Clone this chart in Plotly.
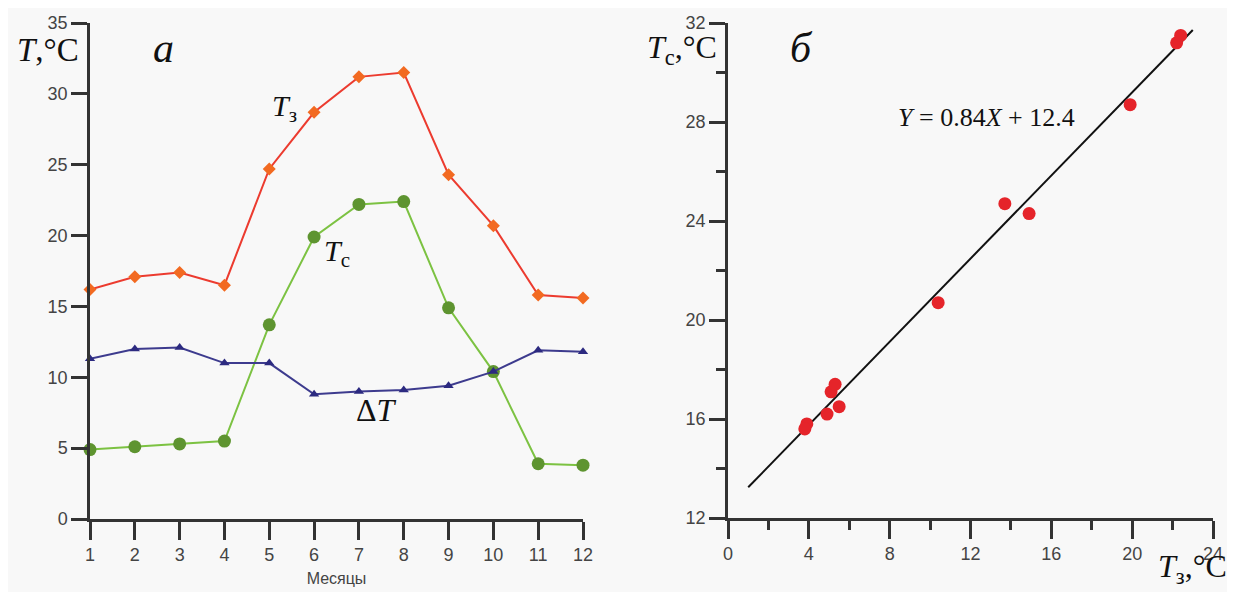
import plotly.graph_objects as go

months = [1, 2, 3, 4, 5, 6, 7, 8, 9, 10, 11, 12]
t_z = [16.2, 17.1, 17.4, 16.5, 24.7, 28.7, 31.2, 31.5, 24.3, 20.7, 15.8, 15.6]
t_c = [4.9, 5.1, 5.3, 5.5, 13.7, 19.9, 22.2, 22.4, 14.9, 10.4, 3.9, 3.8]
d_t = [11.3, 12.0, 12.1, 11.0, 11.0, 8.8, 9.0, 9.1, 9.4, 10.4, 11.9, 11.8]

fit_slope = 0.84
fit_intercept = 12.4
fit_x = [1.0, 23.0]
fit_y = [fit_slope * x + fit_intercept for x in fit_x]

OX, OY = 8, 8  # page body offset
W, H = 1235 - OX, 592 - OY

def px(x):
    return (x - OX) / W

def py(y):
    return 1 - (y - OY) / H

fig = go.Figure()

# left panel
fig.add_trace(go.Scatter(x=months, y=t_z, mode="lines+markers", xaxis="x", yaxis="y",
                         line=dict(color="#ec3b2f", width=2),
                         marker=dict(symbol="diamond", size=10, color="#f26a21"),
                         cliponaxis=False, showlegend=False))
fig.add_trace(go.Scatter(x=months, y=t_c, mode="lines+markers", xaxis="x", yaxis="y",
                         line=dict(color="#7cc242", width=2),
                         marker=dict(symbol="circle", size=13, color="#5e9430"),
                         cliponaxis=False, showlegend=False))
fig.add_trace(go.Scatter(x=months, y=d_t, mode="lines+markers", xaxis="x", yaxis="y",
                         line=dict(color="#3d3b8e", width=2),
                         marker=dict(symbol="triangle-up", size=9, color="#2c2a80"),
                         cliponaxis=False, showlegend=False))

# right panel
fig.add_trace(go.Scatter(x=fit_x, y=fit_y, mode="lines", xaxis="x2", yaxis="y2",
                         line=dict(color="#111111", width=2), showlegend=False))
fig.add_trace(go.Scatter(x=t_c, y=t_z, mode="markers", xaxis="x2", yaxis="y2",
                         marker=dict(symbol="circle", size=13, color="#e5242a"),
                         cliponaxis=False, showlegend=False))

axcol = "#333333"
tickfont = dict(family="Liberation Sans, Arial, sans-serif", size=18, color="#444444")

fig.update_layout(
    width=W, height=H,
    margin=dict(l=0, r=0, t=0, b=0),
    template="none",
    paper_bgcolor="#f8f8f8",
    plot_bgcolor="rgba(0,0,0,0)",
    xaxis=dict(domain=[px(90), px(583)], range=[1, 12], dtick=1, tick0=1,
               showgrid=False, zeroline=False, showline=True, linecolor=axcol, linewidth=2.5,
               ticks="outside", ticklen=18, tickwidth=2.5, tickcolor=axcol,
               tickfont=tickfont, automargin=False, anchor="y",
               title=dict(text="Месяцы", font=dict(family="Liberation Sans, Arial, sans-serif", size=16, color="#444444"), standoff=9)),
    yaxis=dict(domain=[py(519), py(23)], range=[0, 35], dtick=5,
               showgrid=False, zeroline=False, showline=True, linecolor=axcol, linewidth=2.5,
               ticks="outside", ticklen=16, tickwidth=2.5, tickcolor=axcol,
               tickfont=tickfont, automargin=False, anchor="x"),
    xaxis2=dict(domain=[px(728), px(1213)], range=[0, 24], dtick=4,
                showgrid=False, zeroline=False, showline=True, linecolor=axcol, linewidth=2.5,
                ticks="outside", ticklen=18, tickwidth=2.5, tickcolor=axcol,
                minor=dict(dtick=2, ticks="outside", ticklen=9, tickwidth=2.5, tickcolor=axcol, showgrid=False),
                tickfont=tickfont, automargin=False, anchor="y2"),
    yaxis2=dict(domain=[py(518), py(23)], range=[12, 32], dtick=4,
                showgrid=False, zeroline=False, showline=True, linecolor=axcol, linewidth=2.5,
                ticks="outside", ticklen=16, tickwidth=2.5, tickcolor=axcol,
                minor=dict(dtick=2, ticks="outside", ticklen=9, tickwidth=2.5, tickcolor=axcol, showgrid=False),
                tickfont=tickfont, automargin=False, anchor="x2"),
)

serif = "Liberation Serif, Times New Roman, serif"
anns = [
    dict(text="<i>T</i>,°C", xref="paper", yref="paper", x=px(48), y=py(50), size=33),
    dict(text="<i>а</i>", xref="paper", yref="paper", x=px(163), y=py(48), size=42),
    dict(text="<i>б</i>", xref="paper", yref="paper", x=px(801), y=py(48), size=42),
    dict(text="<i>T</i><sub>c</sub>,°C", xref="paper", yref="paper", x=px(682), y=py(50), size=32),
    dict(text="<i>T</i><sub>з</sub>,°C", xref="paper", yref="paper", x=px(1192), y=py(568), size=32),
    dict(text="<i>T</i><sub>з</sub>", xref="x", yref="y", x=5.35, y=29.0, size=30),
    dict(text="<i>T</i><sub>c</sub>", xref="x", yref="y", x=6.5, y=18.8, size=30),
    dict(text="Δ<i>T</i>", xref="x", yref="y", x=7.4, y=7.7, size=32),
    dict(text="<i>Y</i> = 0.84<i>X</i> + 12.4", xref="x2", yref="y2", x=12.8, y=28.2, size=26),
]
for a in anns:
    fig.add_annotation(text=a["text"], xref=a["xref"], yref=a["yref"], x=a["x"], y=a["y"],
                       showarrow=False, xanchor="center", yanchor="middle",
                       font=dict(family=serif, size=a["size"], color="#111111"))

fig.write_html("out.html")
